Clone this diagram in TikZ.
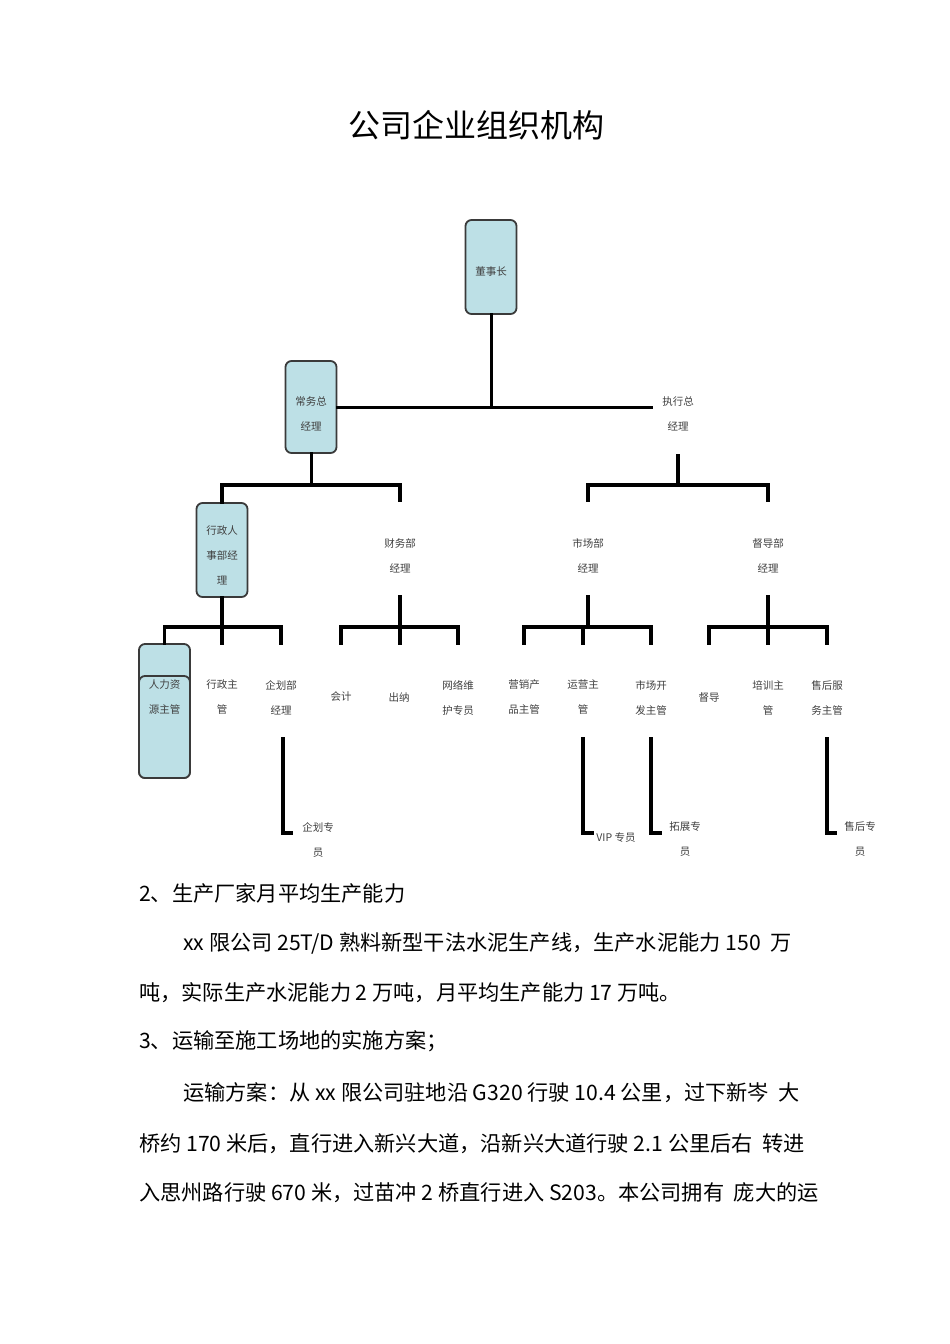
\documentclass[tikz,border=0pt]{standalone}
\usepackage{fontspec}
\setmainfont{Noto Sans CJK SC}
\definecolor{boxfill}{HTML}{BDE0E6}
\definecolor{boxline}{HTML}{3A3A3A}
\definecolor{lbltxt}{HTML}{404040}
\begin{document}
\begin{tikzpicture}[x=1pt,y=-1pt,
  orgbox/.style={draw=boxline, fill=boxfill, rounded corners=6pt, line width=1.8pt,
    minimum width=51pt, minimum height=94pt, inner sep=0pt},
  lbl/.style={text=lbltxt, align=center, inner sep=0pt, font=\fontsize{10.5}{25}\selectfont},
  thin/.style={line width=3pt, line cap=rect},
  thick/.style={line width=3.8pt, line cap=rect},
  para/.style={anchor=west, inner sep=0pt, font=\fontsize{21.2}{21.2}\selectfont}]
\useasboundingbox (0,0) rectangle (950,1344);

% title
\node[inner sep=0pt, font=\fontsize{32}{32}\selectfont] (title) at (476,125) {公司企业组织机构};

% level 0/1
\node[orgbox] (dsz) at (491,267) {};
\node[lbl] (dszt) at (491,272) {董事长};
\node[orgbox, minimum height=92pt] (cwz) at (311,407) {};
\node[lbl] (cwzt) at (311,413.5) {常务总\\经理};
\node[lbl] (zxz) at (678,413.5) {执行总\\经理};
\coordinate (barA) at (651,407);
\draw[thin] (dsz.south) -- (dsz.south |- cwz.east);
\draw[thin] (cwz.east) -- (barA);

% level 2
\node[orgbox] (xzrs) at (222,550) {};
\node[lbl] (xzrst) at (222,555.5) {行政人\\事部经\\理};
\node[lbl] (cwb) at (400,555.5) {财务部\\经理};
\node[lbl] (scb) at (588,555.5) {市场部\\经理};
\node[lbl] (ddb) at (768,555.5) {督导部\\经理};

\coordinate (jL) at (311,485);
\coordinate (cwbT) at (400,500);
\draw[thin] (cwz.south) -- (jL);
\draw[thick] (xzrs.north) |- (jL);
\draw[thick] (jL) -| (cwbT);

\coordinate (zxzB) at (678,456);
\coordinate (jR) at (678,485);
\coordinate (scbT) at (588,500);
\coordinate (ddbT) at (768,500);
\draw[thick] (zxzB) -- (jR);
\draw[thick] (scbT) |- (jR) -| (ddbT);

% level 3 nodes
\node[orgbox, minimum height=134pt] (hr) at (164.5,711) {};
\node[orgbox, minimum height=102pt] (hrin) at (164.5,727) {};
\node[lbl] (hrt) at (164.5,697.5) {人力资\\源主管};
\node[lbl] (xzzg) at (222,697.5) {行政主\\管};
\node[lbl] (qhb) at (281,697.5) {企划部\\经理};
\node[lbl] (kj) at (341,697) {会计};
\node[lbl] (cn) at (399,697) {出纳};
\node[lbl] (wl) at (458,697.5) {网络维\\护专员};
\node[lbl] (yx) at (524,697.5) {营销产\\品主管};
\node[lbl] (yy) at (583,697.5) {运营主\\管};
\node[lbl] (sckf) at (651,697.5) {市场开\\发主管};
\node[lbl] (dd) at (709,697) {督导};
\node[lbl] (px) at (768,697.5) {培训主\\管};
\node[lbl] (sh) at (827,697.5) {售后服\\务主管};

% level 3 connectors
\coordinate (j1) at (222,627);
\coordinate (xzzgT) at (222,643);
\coordinate (qhbT) at (281,643);
\draw[thick] (xzrs.south) -- (j1);
\draw[thick] (hr.north) |- (j1) -| (qhbT);
\draw[thick] (j1) -- (xzzgT);

\coordinate (cwbB) at (400,597);
\coordinate (j2) at (400,627);
\coordinate (kjT) at (341,643);
\coordinate (cnT) at (400,643);
\coordinate (wlT) at (458,643);
\draw[thick] (cwbB) -- (cnT);
\draw[thick] (kjT) |- (j2) -| (wlT);

\coordinate (scbB) at (588,597);
\coordinate (j3) at (588,627);
\coordinate (yxT) at (524,643);
\coordinate (yyT) at (583,643);
\coordinate (sckfT) at (651,643);
\draw[thick] (scbB) -- (j3);
\draw[thick] (yxT) |- (j3) -| (sckfT);
\draw[thick] (yyT) -- (yyT |- j3);

\coordinate (ddbB) at (768,597);
\coordinate (j4) at (768,627);
\coordinate (ddT) at (709,643);
\coordinate (pxT) at (768,643);
\coordinate (shT) at (827,643);
\draw[thick] (ddbB) -- (pxT);
\draw[thick] (ddT) |- (j4) -| (shT);

% level 4
\node[lbl] (qhzy) at (318,839.5) {企划专\\员};
\node[lbl] (vip) at (616,838) {VIP 专员};
\node[lbl] (tz) at (685,839.5) {拓展专\\员};
\node[lbl] (shzy) at (860,839.5) {售后专\\员};

\coordinate (qhbB) at (283,739);
\coordinate (qhzyL) at (291,833);
\draw[thick] (qhbB) |- (qhzyL);
\coordinate (yyB) at (583,739);
\coordinate (vipL) at (592,833);
\draw[thick] (yyB) |- (vipL);
\coordinate (sckfB) at (651,739);
\coordinate (tzL) at (660,833);
\draw[thick] (sckfB) |- (tzL);
\coordinate (shB) at (827,739);
\coordinate (shzyL) at (835,833);
\draw[thick] (shB) |- (shzyL);

% paragraph text
\node[para] (p1) at (139,893) {2、生产厂家月平均生产能力};
\node[para] (p2) at (183,943) {xx 限公司 25T/D 熟料新型干法水泥生产线，生产水泥能力 150 \ 万};
\node[para] (p3) at (139,993) {吨，实际生产水泥能力 2 万吨，月平均生产能力 17 万吨。};
\node[para] (p4) at (139,1041) {3、运输至施工场地的实施方案；};
\node[para] (p5) at (183,1093) {运输方案：从 xx 限公司驻地沿 G320 行驶 10.4 公里，过下新岑 \ 大};
\node[para] (p6) at (139,1144) {桥约 170 米后，直行进入新兴大道，沿新兴大道行驶 2.1 公里后右 \ 转进};
\node[para] (p7) at (139,1193) {入思州路行驶 670 米，过苗冲 2 桥直行进入 S203。本公司拥有 \ 庞大的运};
\end{tikzpicture}
\end{document}
